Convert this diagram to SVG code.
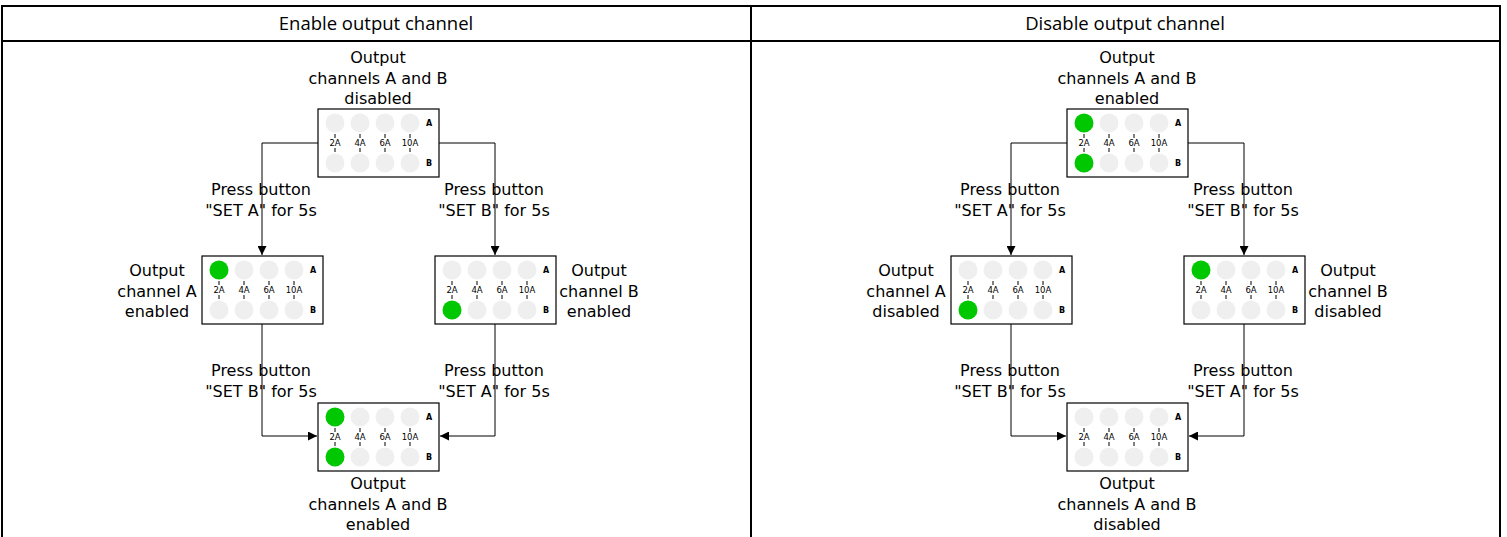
<svg xmlns="http://www.w3.org/2000/svg" width="1507" height="537" viewBox="0 0 1507 537">
<style>
.frame{stroke:#000;stroke-width:2;fill:none}
.hdr{font-family:"Open Sans","Liberation Sans",sans-serif;font-size:18.5px;fill:#000;text-anchor:middle}
.lbl{font-family:"DejaVu Sans","Open Sans",sans-serif;font-size:16px;fill:#000;text-anchor:middle}
.box{fill:#fff;stroke:#000;stroke-width:1.2}
.off{fill:#efefef}
.on{fill:#00c800}
.amp{font-family:"DejaVu Sans",Verdana,sans-serif;font-size:8.5px;fill:#000;text-anchor:middle}
.ab{font-family:"DejaVu Sans",Verdana,sans-serif;font-size:8px;font-weight:bold;fill:#000;text-anchor:middle}
.tick{stroke:#000;stroke-width:1}
.conn{stroke:#000;stroke-width:1;fill:none}
</style>
<defs>
<marker id="arr" viewBox="0 0 10 10" refX="10" refY="5" markerWidth="9" markerHeight="9" markerUnits="userSpaceOnUse" orient="auto">
<path d="M0,0 L10,5 L0,10 z" fill="#000"/>
</marker>
<g id="panel">
<g class="tick">
<line x1="17" y1="25" x2="17" y2="29"/><line x1="17" y1="39" x2="17" y2="43"/>
<line x1="42" y1="25" x2="42" y2="29"/><line x1="42" y1="39" x2="42" y2="43"/>
<line x1="67" y1="25" x2="67" y2="29"/><line x1="67" y1="39" x2="67" y2="43"/>
<line x1="92" y1="25" x2="92" y2="29"/><line x1="92" y1="39" x2="92" y2="43"/>
</g>
<text class="amp" x="17" y="37">2A</text>
<text class="amp" x="42" y="37">4A</text>
<text class="amp" x="67" y="37">6A</text>
<text class="amp" x="92" y="37">10A</text>
<text class="ab" x="111" y="17">A</text>
<text class="ab" x="111" y="57">B</text>
</g>
<g id="greys">
<circle class="off" cx="42" cy="14" r="9.5"/><circle class="off" cx="67" cy="14" r="9.5"/><circle class="off" cx="92" cy="14" r="9.5"/>
<circle class="off" cx="42" cy="54" r="9.5"/><circle class="off" cx="67" cy="54" r="9.5"/><circle class="off" cx="92" cy="54" r="9.5"/>
</g>
</defs>

<g id="table">
<line class="frame" x1="1" y1="6" x2="1501" y2="6"/>
<line class="frame" x1="2" y1="41" x2="1500" y2="41"/>
<line class="frame" x1="2" y1="5" x2="2" y2="537"/>
<line class="frame" x1="751" y1="5" x2="751" y2="537"/>
<line class="frame" x1="1500" y1="5" x2="1500" y2="537"/>
<text class="hdr" x="376" y="30">Enable output channel</text>
<text class="hdr" x="1125" y="30">Disable output channel</text>
</g>

<g id="connectors">
<path class="conn" d="M318,143 H262 V255" marker-end="url(#arr)"/>
<path class="conn" d="M439,143 H495 V255" marker-end="url(#arr)"/>
<path class="conn" d="M262,324 V436 H317" marker-end="url(#arr)"/>
<path class="conn" d="M495,324 V436 H440" marker-end="url(#arr)"/>
<path class="conn" d="M1067,143 H1011 V255" marker-end="url(#arr)"/>
<path class="conn" d="M1188,143 H1244 V255" marker-end="url(#arr)"/>
<path class="conn" d="M1011,324 V436 H1066" marker-end="url(#arr)"/>
<path class="conn" d="M1244,324 V436 H1189" marker-end="url(#arr)"/>
</g>

<g id="labels-left">
<text class="lbl"><tspan x="378" y="63">Output</tspan><tspan x="378" y="84">channels A and B</tspan><tspan x="378" y="104">disabled</tspan></text>
<text class="lbl"><tspan x="261" y="195">Press button</tspan><tspan x="261" y="216">"SET A" for 5s</tspan></text>
<text class="lbl"><tspan x="494" y="195">Press button</tspan><tspan x="494" y="216">"SET B" for 5s</tspan></text>
<text class="lbl"><tspan x="157" y="276">Output</tspan><tspan x="157" y="297">channel A</tspan><tspan x="157" y="317">enabled</tspan></text>
<text class="lbl"><tspan x="599" y="276">Output</tspan><tspan x="599" y="297">channel B</tspan><tspan x="599" y="317">enabled</tspan></text>
<text class="lbl"><tspan x="261" y="376">Press button</tspan><tspan x="261" y="397">"SET B" for 5s</tspan></text>
<text class="lbl"><tspan x="494" y="376">Press button</tspan><tspan x="494" y="397">"SET A" for 5s</tspan></text>
<text class="lbl"><tspan x="378" y="489">Output</tspan><tspan x="378" y="510">channels A and B</tspan><tspan x="378" y="530">enabled</tspan></text>
</g>
<g id="labels-right">
<text class="lbl"><tspan x="1127" y="63">Output</tspan><tspan x="1127" y="84">channels A and B</tspan><tspan x="1127" y="104">enabled</tspan></text>
<text class="lbl"><tspan x="1010" y="195">Press button</tspan><tspan x="1010" y="216">"SET A" for 5s</tspan></text>
<text class="lbl"><tspan x="1243" y="195">Press button</tspan><tspan x="1243" y="216">"SET B" for 5s</tspan></text>
<text class="lbl"><tspan x="906" y="276">Output</tspan><tspan x="906" y="297">channel A</tspan><tspan x="906" y="317">disabled</tspan></text>
<text class="lbl"><tspan x="1348" y="276">Output</tspan><tspan x="1348" y="297">channel B</tspan><tspan x="1348" y="317">disabled</tspan></text>
<text class="lbl"><tspan x="1010" y="376">Press button</tspan><tspan x="1010" y="397">"SET B" for 5s</tspan></text>
<text class="lbl"><tspan x="1243" y="376">Press button</tspan><tspan x="1243" y="397">"SET A" for 5s</tspan></text>
<text class="lbl"><tspan x="1127" y="489">Output</tspan><tspan x="1127" y="510">channels A and B</tspan><tspan x="1127" y="530">disabled</tspan></text>
</g>

<g id="L-top" transform="translate(318,109)">
<rect class="box" x="0" y="0" width="121" height="68"/>
<use href="#greys"/>
<circle class="off" cx="17" cy="14" r="9.5"/><circle class="off" cx="17" cy="54" r="9.5"/>
<use href="#panel"/>
</g>
<g id="L-A" transform="translate(202,256)">
<rect class="box" x="0" y="0" width="121" height="68"/>
<use href="#greys"/>
<circle class="on" cx="17" cy="14" r="9.5"/><circle class="off" cx="17" cy="54" r="9.5"/>
<use href="#panel"/>
</g>
<g id="L-B" transform="translate(435,256)">
<rect class="box" x="0" y="0" width="121" height="68"/>
<use href="#greys"/>
<circle class="off" cx="17" cy="14" r="9.5"/><circle class="on" cx="17" cy="54" r="9.5"/>
<use href="#panel"/>
</g>
<g id="L-bottom" transform="translate(318,403)">
<rect class="box" x="0" y="0" width="121" height="68"/>
<use href="#greys"/>
<circle class="on" cx="17" cy="14" r="9.5"/><circle class="on" cx="17" cy="54" r="9.5"/>
<use href="#panel"/>
</g>
<g id="R-top" transform="translate(1067,109)">
<rect class="box" x="0" y="0" width="121" height="68"/>
<use href="#greys"/>
<circle class="on" cx="17" cy="14" r="9.5"/><circle class="on" cx="17" cy="54" r="9.5"/>
<use href="#panel"/>
</g>
<g id="R-A" transform="translate(951,256)">
<rect class="box" x="0" y="0" width="121" height="68"/>
<use href="#greys"/>
<circle class="off" cx="17" cy="14" r="9.5"/><circle class="on" cx="17" cy="54" r="9.5"/>
<use href="#panel"/>
</g>
<g id="R-B" transform="translate(1184,256)">
<rect class="box" x="0" y="0" width="121" height="68"/>
<use href="#greys"/>
<circle class="on" cx="17" cy="14" r="9.5"/><circle class="off" cx="17" cy="54" r="9.5"/>
<use href="#panel"/>
</g>
<g id="R-bottom" transform="translate(1067,403)">
<rect class="box" x="0" y="0" width="121" height="68"/>
<use href="#greys"/>
<circle class="off" cx="17" cy="14" r="9.5"/><circle class="off" cx="17" cy="54" r="9.5"/>
<use href="#panel"/>
</g>
</svg>
